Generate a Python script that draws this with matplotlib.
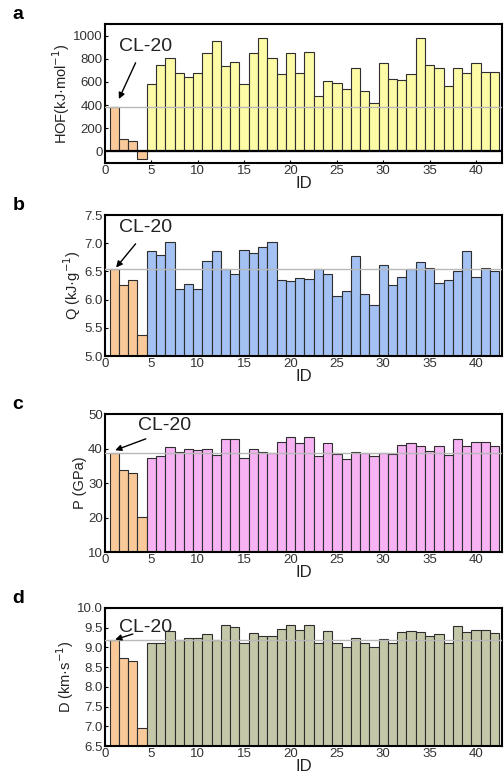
import numpy as np
import matplotlib
matplotlib.use('Agg')
import matplotlib.pyplot as plt

plt.rcParams['font.family'] = ['Liberation Sans', 'DejaVu Sans']

ids = np.arange(1, 43)

# heat of formation (kJ/mol)
hof = [380, 107, 90, -67, 580, 748, 806, 678, 638, 678, 849, 957, 739, 771,
       586, 846, 977, 806, 672, 849, 678, 858, 478, 609, 588, 542, 722, 522,
       420, 762, 629, 620, 664, 977, 745, 719, 562, 722, 678, 762, 681, 681]
# heat of detonation (kJ/g)
q = [6.55, 6.26, 6.34, 5.38, 6.87, 6.80, 7.02, 6.19, 6.27, 6.19, 6.69, 6.87,
     6.54, 6.46, 6.88, 6.82, 6.94, 7.02, 6.34, 6.33, 6.38, 6.36, 6.54, 6.46,
     6.07, 6.16, 6.77, 6.10, 5.90, 6.61, 6.26, 6.41, 6.54, 6.67, 6.56, 6.30,
     6.35, 6.50, 6.87, 6.40, 6.57, 6.51]
# detonation pressure (GPa)
p = [38.8, 33.7, 32.8, 20.1, 37.3, 37.7, 40.4, 38.9, 39.9, 39.5, 39.9, 38.1,
     42.8, 42.7, 37.3, 39.9, 39.1, 38.8, 41.9, 43.2, 41.7, 43.4, 37.9, 41.7,
     38.5, 37.1, 38.9, 38.7, 37.7, 38.6, 38.5, 41.1, 41.5, 40.8, 39.3, 40.6,
     38.1, 42.8, 40.6, 41.9, 41.8, 40.8]
# detonation velocity (km/s)
d = [9.18, 8.73, 8.66, 6.96, 9.10, 9.12, 9.41, 9.19, 9.25, 9.23, 9.33, 9.19,
     9.56, 9.53, 9.11, 9.36, 9.28, 9.28, 9.46, 9.58, 9.43, 9.57, 9.12, 9.42,
     9.10, 9.02, 9.23, 9.12, 9.02, 9.22, 9.12, 9.38, 9.42, 9.40, 9.29, 9.33,
     9.11, 9.55, 9.38, 9.45, 9.45, 9.36]

n_ref = 4  # first four are reference compounds (orange)
ref_color = '#F9C99A'

panels = [
    # letter, values, color, ylabel, ylim, yticks, text pos, arrow tail, arrow head, bottom, height
    ('a', hof, '#FDFBA6', 'HOF(kJ·mol$^{-1}$)', (-100, 1100), np.arange(0, 1001, 200),
     (1.5, 904), (3.3, 765), (1.5, 452), 0.7897, 0.1794),
    ('b', q, '#A3C1F2', 'Q (kJ·g$^{-1}$)', (5.0, 7.5), np.arange(5.0, 7.51, 0.5),
     (1.5, 7.28), (3.3, 6.99), (1.2, 6.57), 0.5406, 0.1819),
    ('c', p, '#F7B2F3', 'P (GPa)', (10, 50), np.arange(10, 51, 10),
     (3.6, 46.7), (4.4, 42.8), (1.1, 39.5), 0.2877, 0.1781),
    ('d', d, '#C5C8A8', 'D (km·s$^{-1}$)', (6.5, 10.0), np.arange(6.5, 10.01, 0.5),
     (1.5, 9.5), (3.0, 9.34), (1.1, 9.2), 0.0374, 0.1781),
]

fig = plt.figure(figsize=(5.04, 7.75), dpi=100)

for letter, vals, col, ylab, ylim, yt, tpos, tail, head, bot, h in panels:
    ax = fig.add_axes([0.2083, bot, 0.7877, h])
    colors = [ref_color] * n_ref + [col] * (len(ids) - n_ref)
    ax.bar(ids, vals, width=1.0, color=colors, edgecolor='#2e2e2e', linewidth=0.8, zorder=2)
    ax.axhline(vals[0], color='#b8b8b8', lw=1.0, zorder=3)
    if letter == 'a':
        ax.axhline(0, color='black', lw=1.6, zorder=4)
    ax.set_xlim(0, 42.8)
    ax.set_ylim(*ylim)
    ax.set_yticks(yt)
    if letter in ('a', 'c'):
        ax.set_yticklabels([str(int(v)) for v in yt])
    else:
        ax.set_yticklabels(['%.1f' % v for v in yt])
    ax.set_xticks(np.arange(0, 41, 5))
    ax.tick_params(direction='in', length=2.5, width=0.8, labelsize=9.5,
                   labelcolor='#333333', pad=1.5)
    for s in ax.spines.values():
        s.set_linewidth(1.5)
    ax.set_xlabel('ID', fontsize=12, labelpad=-1, color='#222222')
    ax.set_ylabel(ylab, fontsize=10.5, labelpad=1, color='#222222')
    ax.text(tpos[0], tpos[1], 'CL-20', fontsize=14, va='center', ha='left',
            color='#222222', zorder=5)
    ax.annotate('', xy=head, xytext=tail,
                arrowprops=dict(arrowstyle='-|>', color='black', lw=1.0,
                                mutation_scale=9, shrinkA=0, shrinkB=0))
    fig.text(0.036, bot + h + 0.012, letter, fontsize=14, fontweight='bold',
             ha='center', va='center')

fig.savefig('out.png', dpi=100)
